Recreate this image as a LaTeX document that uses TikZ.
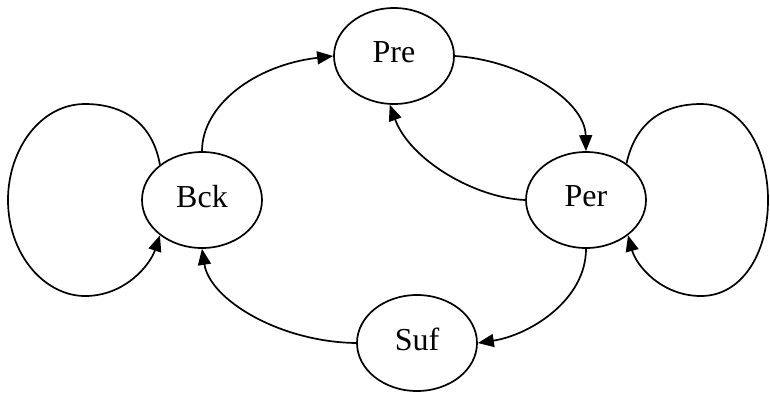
\documentclass[tikz,border=0pt]{standalone}
\usepackage{fontspec}
\setmainfont{Liberation Serif}
\usetikzlibrary{arrows.meta,shapes.geometric}
\begin{document}
\begin{tikzpicture}[x=1pt,y=-1pt,
  state/.style={draw,line width=1.7pt,ellipse,minimum width=120pt,minimum height=96pt,inner sep=0pt,font=\fontsize{32}{36}\selectfont},
  edge/.style={line width=1.7pt,-{Triangle[length=16pt,width=13pt]}}]
\useasboundingbox (0,0) rectangle (770,392);
\clip (0,0) rectangle (770,392);
\node[state] (pre) at (394,56) {\raisebox{7pt}{Pre}};
\node[state] (bck) at (202,200) {\raisebox{7pt}{Bck}};
\node[state] (per) at (586,200) {\raisebox{7pt}{Per}};
\node[state] (suf) at (417,343) {\raisebox{7pt}{Suf}};
% Bck -> Pre
\draw[edge] (bck.north) .. controls (202,105) and (255,65) .. (pre.west);
% Pre -> Per
\draw[edge] (pre.east) .. controls (520,60) and (585,100) .. (per.north);
% Per -> Pre
\draw[edge] (per.west) .. controls (475,198) and (410,160) .. (pre.-95);
% Per -> Suf
\draw[edge] (per.south) .. controls (586,300) and (530,335) .. (suf.east);
% Suf -> Bck
\draw[edge] (suf.west) .. controls (280,342) and (210,300) .. (bck.south);
% Bck loop
\draw[edge] (bck.140) .. controls (152,120) and (120,104) .. (85,104)
  .. controls (40,104) and (8,150) .. (8,200)
  .. controls (8,255) and (45,296) .. (85,296)
  .. controls (125,296) and (150,265) .. (bck.-140);
% Per loop
\draw[edge] (per.42) .. controls (636,120) and (666,104) .. (701,104)
  .. controls (743,104) and (768,150) .. (768,200)
  .. controls (768,255) and (741,296) .. (701,296)
  .. controls (661,296) and (636,265) .. (per.-40);
\end{tikzpicture}
\end{document}
